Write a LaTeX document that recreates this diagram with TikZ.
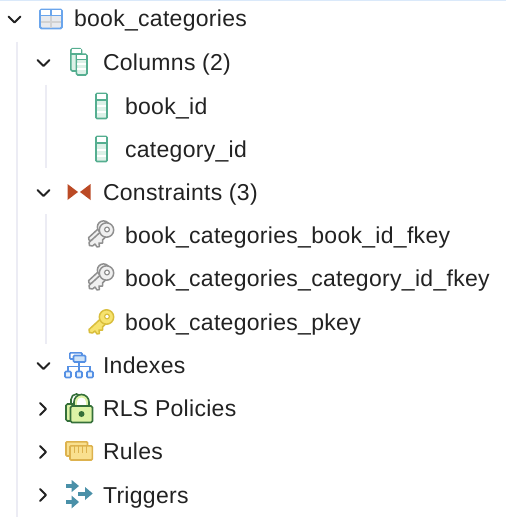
\documentclass[tikz,border=0pt]{standalone}
\usepackage{fontspec}
\setmainfont[LetterSpace=1.3]{Liberation Sans}
\definecolor{txt}{HTML}{222222}
\definecolor{guide}{HTML}{ECECF4}
\definecolor{tblue}{HTML}{6AA5EC}
\definecolor{tfill}{HTML}{E8EAEE}
\definecolor{cgreen}{HTML}{55AE90}
\definecolor{cfill}{HTML}{DDF1E8}
\definecolor{cons}{HTML}{BB4A25}
\definecolor{kgray}{HTML}{8F8F8F}
\definecolor{kfill}{HTML}{F0F0F0}
\definecolor{kyel}{HTML}{D9BE3C}
\definecolor{kyfill}{HTML}{F7E36E}
\definecolor{iblue}{HTML}{5590E4}
\definecolor{ifill}{HTML}{CFE3F7}
\definecolor{lgreen}{HTML}{35703A}
\definecolor{lfill}{HTML}{DDF3A6}
\definecolor{ryel}{HTML}{DDB24E}
\definecolor{rfill}{HTML}{F9E08F}
\definecolor{trig}{HTML}{4A90A8}
\tikzset{
  x=1pt,y=-1pt,
  lab/.style={anchor=base west,inner sep=0pt,outer sep=0pt,text=txt,font=\fontsize{23}{26}\selectfont},
  chev/.style={draw=txt,line width=2pt,line cap=round,line join=round},
  guideline/.style={draw=guide,line width=2pt},
  keyline/.style={line width=1.5pt,line join=round},
  iconline/.style={line width=1.6pt},
  pics/keybody/.style n args={2}{code={
    \draw[draw=#1,fill=#2,keyline]
      (-5,1) -- (-17.5,12.5) -- (-17,15.5) -- (-14,16) -- (-11.5,14) -- (-9.5,17) -- (-7,16.5)
      -- (-7.5,13) -- (-4,13) -- (-4,10) -- (1,5) -- cycle;
    \draw[draw=#1,fill=#2,keyline] (0,0) circle[radius=7.2];
    \draw[draw=#1,fill=white,line width=1.2pt] (0.5,-0.5) circle[radius=2.4];
  }},
  pics/colicon/.style={code={
    \draw[draw=cgreen,fill=cfill,iconline,rounded corners=1pt] (0,0) rectangle (11,25);
    \fill[white] (0.8,0.8) rectangle (10.2,6);
    \fill[white] (0.8,12) rectangle (10.2,14);
    \fill[white] (0.8,18) rectangle (10.2,20);
    \draw[draw=cgreen,iconline] (0,6.3) -- (11,6.3);
  }}
}
\begin{document}
\begin{tikzpicture}
\useasboundingbox (0,0) rectangle (506,524);
\fill[white] (0,0) rectangle (506,524);
\fill[tblue!25] (0,0) rectangle (506,1);
% guides
\coordinate (g1a) at (17,42); \coordinate (g1b) at (17,517);
\coordinate (g2a) at (46,85); \coordinate (g2b) at (46,168);
\coordinate (g3a) at (46,214); \coordinate (g3b) at (46,344);
\draw[guideline] (g1a) -- (g1b);
\draw[guideline] (g2a) -- (g2b);
\draw[guideline] (g3a) -- (g3b);
% chevrons
\draw[chev] (8.5,16.5) -- (14.5,22.5) -- (20.5,16.5);
\draw[chev] (37.5,60) -- (43.5,66) -- (49.5,60);
\draw[chev] (37.5,190) -- (43.5,196) -- (49.5,190);
\draw[chev] (37.5,363) -- (43.5,369) -- (49.5,363);
\draw[chev] (40,403) -- (46,409) -- (40,415);
\draw[chev] (40,446) -- (46,452) -- (40,458);
\draw[chev] (40,489) -- (46,495) -- (40,501);
% labels
\node[lab] (t0) at (74,27) {book\_categories};
\node[lab] (t1) at (103,71) {Columns (2)};
\node[lab] (t2) at (125,114) {book\_id};
\node[lab] (t3) at (125,157) {category\_id};
\node[lab] (t4) at (103,200) {Constraints (3)};
\node[lab] (t5) at (125,243) {book\_categories\_book\_id\_fkey};
\node[lab] (t6) at (125,286) {book\_categories\_category\_id\_fkey};
\node[lab] (t7) at (125,330) {book\_categories\_pkey};
\node[lab] (t8) at (103,373) {Indexes};
\node[lab] (t9) at (103,416) {RLS Policies};
\node[lab] (t10) at (103,459) {Rules};
\node[lab] (t11) at (103,503) {Triggers};
% table icon
\draw[draw=tblue,fill=tfill,line width=1.8pt,rounded corners=1.5pt] (40,9.5) rectangle (62,28.5);
\fill[white] (41,10.5) rectangle (61,15);
\draw[draw=tblue,line width=1.6pt] (40,15.5) -- (62,15.5) (51,9.5) -- (51,15.5);
\draw[draw=gray!35,line width=1.2pt] (51,16) -- (51,28) (41,22) -- (61,22);
% columns icon
\draw[draw=cgreen,fill=cfill,iconline,rounded corners=1.5pt] (70.8,48.8) rectangle (81.5,71);
\fill[white] (71.5,49.5) rectangle (80.8,53.5);
\draw[draw=cgreen,iconline] (70.8,54) -- (81.5,54);
\draw[draw=cgreen,fill=cfill,iconline,rounded corners=1.5pt] (76.3,54.3) rectangle (87,75);
\fill[white] (77,55) rectangle (86.3,59);
\fill[white] (77,63.5) rectangle (86.3,65);
\fill[white] (77,68.5) rectangle (86.3,70);
\draw[draw=cgreen,iconline] (76.3,59.5) -- (87,59.5);
\pic at (96,93.5) {colicon};
\pic at (96,136.5) {colicon};
% constraints icon
\fill[cons] (67.5,184) -- (67.5,200) -- (78,192) -- cycle;
\fill[cons] (90.5,184) -- (90.5,200) -- (80,192) -- cycle;
% keys
\pic[scale=.85] at (103.5,227) {keybody={kgray}{kfill}};
\pic at (106.5,230) {keybody={kgray}{kfill}};
\pic[scale=.85] at (103.5,270) {keybody={kgray}{kfill}};
\pic at (106.5,273) {keybody={kgray}{kfill}};
\pic at (106.5,317) {keybody={kyel}{kyfill}};
% indexes icon
\draw[draw=iblue,fill=white,iconline,rounded corners=1pt] (69.8,352.8) rectangle (82,359);
\draw[draw=iblue,fill=ifill,iconline,rounded corners=1pt] (73.5,355.5) rectangle (85.5,362);
\draw[draw=iblue,iconline] (79,362) -- (79,371) (68,371) -- (68,366.5) -- (90,366.5) -- (90,371);
\foreach \ix in {68,79,90}
  \draw[draw=iblue,fill=ifill!50,iconline,rounded corners=1pt] (\ix-3,371.5) rectangle (\ix+3,377.5);
% RLS icon
\draw[draw=lgreen,fill=white,iconline] (71,405) -- (71,399.5) arc[start angle=180,end angle=360,radius=5.5] -- (82,405);
\draw[draw=lgreen,fill=lfill,iconline,rounded corners=1.5pt] (66,404) rectangle (78,421);
\draw[draw=lgreen,fill=lfill,iconline] (74,406) -- (74,402) arc[start angle=180,end angle=360,radius=7.5] -- (89,406) -- cycle;
\fill[white] (77,406) -- (77,402) arc[start angle=180,end angle=360,radius=4.5] -- (86,406) -- cycle;
\draw[draw=lgreen,fill=lfill,iconline,rounded corners=1.5pt] (70.5,406) rectangle (92.5,422.5);
\fill[lgreen] (81.5,414) circle[radius=3];
% rules icon
\draw[draw=ryel,fill=rfill,iconline,rounded corners=1pt] (66,441.8) rectangle (87.5,456);
\draw[draw=ryel,fill=rfill,iconline,rounded corners=1pt] (70,445.8) rectangle (92.3,460);
\foreach \rx in {74.5,78.5,82.5,86.5}
  \draw[draw=ryel,line width=1.2pt] (\rx,446) -- (\rx,453);
% triggers icon
\fill[trig] (65.5,484) rectangle (73,488);
\fill[trig] (71.7,480) -- (79,486) -- (71.7,492) -- cycle;
\fill[trig] (78,491.5) rectangle (86,495.5);
\fill[trig] (85,487) -- (92.7,493.5) -- (85,500) -- cycle;
\fill[trig] (65.5,500) rectangle (73,504);
\fill[trig] (71.7,495.7) -- (79,502) -- (71.7,508.3) -- cycle;
\end{tikzpicture}
\end{document}
